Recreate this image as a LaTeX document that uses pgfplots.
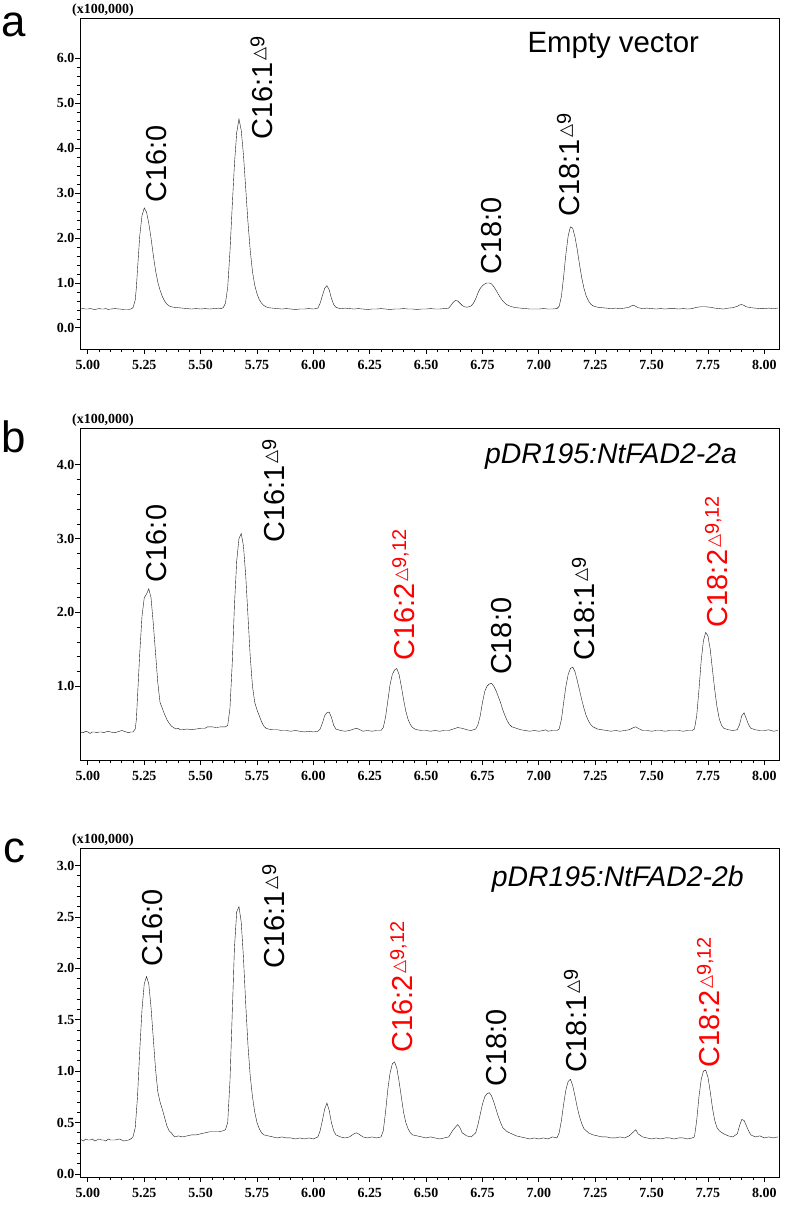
\documentclass[border=0pt]{standalone}
\usepackage{pgfplots}
\pgfplotsset{compat=1.18}
\usepackage{fontspec}
\setmainfont{Liberation Sans}
\newfontfamily\ticksfamily{Liberation Serif}
\newfontfamily\symfont{DejaVu Sans}
\newcommand{\tickfont}{\ticksfamily\bfseries\fontsize{14}{14}\selectfont}
\newcommand{\pk}{\fontsize{29}{29}\selectfont}
\newcommand{\dsup}[1]{\hspace{2bp}\raisebox{8.5bp}{\fontsize{20}{20}\selectfont{\symfont\fontsize{17}{17}\selectfont △}#1}}
\pgfplotsset{chrom/.style={
  scale only axis, width=699bp,
  xmin=4.965, xmax=8.065,
  xtick={5,5.25,5.5,5.75,6,6.25,6.5,6.75,7,7.25,7.5,7.75,8},
  minor x tick num=4,
  minor y tick num=4,
  scaled ticks=false,
  tick align=outside, tick pos=left,
  major tick length=4.5bp, minor tick length=3bp,
  axis line style={line width=0.9bp},
  tick style={line width=0.8bp, black},
  xticklabel style={/pgf/number format/fixed, /pgf/number format/fixed zerofill, /pgf/number format/precision=2, yshift=-3bp},
  yticklabel style={/pgf/number format/fixed, /pgf/number format/fixed zerofill, /pgf/number format/precision=1, inner sep=1bp},
  tick label style={font=\tickfont},
  /pgf/number format/assume math mode=true,
  clip=false,
  cycle list={{black!90, mark=none, line width=0.9bp}},
}}
\begin{document}
\begin{tikzpicture}
\path[use as bounding box] (0,0) rectangle (787bp,-1205bp);
\node[anchor=base, inner sep=0, font=\fontsize{44}{44}\selectfont] at (14bp,-36bp) {a};
\node[anchor=base, inner sep=0, font=\fontsize{44}{44}\selectfont] at (14bp,-452bp) {b};
\node[anchor=base, inner sep=0, font=\fontsize{44}{44}\selectfont] at (14bp,-862bp) {c};
% ---------------- panel a
\begin{axis}[chrom, height=331bp, at={(80bp,-349bp)}, anchor=south west,
  ymin=-0.47, ymax=6.9, ytick={0,1,2,3,4,5,6}]
\addplot coordinates {
(4.965,0.42)(4.98,0.43)(4.99,0.42)(5.00,0.42)(5.01,0.43)(5.02,0.42)(5.03,0.41)(5.04,0.42)(5.05,0.43)(5.06,0.42)(5.07,0.42)(5.08,0.43)(5.09,0.41)(5.10,0.42)(5.12,0.43)(5.14,0.42)(5.16,0.41)(5.18,0.41)(5.19,0.42)(5.20,0.45)(5.21,0.62)(5.215,0.9)(5.22,1.3)(5.23,2.05)(5.24,2.5)(5.25,2.67)(5.26,2.58)(5.27,2.33)(5.28,2.0)(5.29,1.62)(5.30,1.28)(5.31,1.02)(5.32,0.84)(5.33,0.7)(5.34,0.6)(5.35,0.53)(5.36,0.49)(5.37,0.47)(5.38,0.46)(5.40,0.45)(5.42,0.44)(5.44,0.43)(5.46,0.42)(5.48,0.43)(5.50,0.42)(5.52,0.43)(5.54,0.42)(5.56,0.43)(5.58,0.44)(5.59,0.43)(5.60,0.45)(5.61,0.55)(5.62,0.9)(5.63,1.7)(5.64,2.7)(5.65,3.65)(5.66,4.35)(5.67,4.65)(5.68,4.4)(5.69,3.85)(5.70,3.1)(5.71,2.35)(5.72,1.72)(5.73,1.25)(5.74,0.95)(5.75,0.76)(5.76,0.63)(5.77,0.55)(5.78,0.5)(5.79,0.47)(5.80,0.45)(5.82,0.44)(5.84,0.43)(5.86,0.42)(5.88,0.43)(5.90,0.42)(5.92,0.41)(5.94,0.42)(5.96,0.42)(5.98,0.43)(6.00,0.42)(6.02,0.44)(6.03,0.55)(6.04,0.72)(6.05,0.88)(6.06,0.94)(6.07,0.85)(6.08,0.66)(6.09,0.52)(6.10,0.46)(6.11,0.44)(6.12,0.43)(6.14,0.44)(6.16,0.43)(6.18,0.42)(6.20,0.43)(6.22,0.42)(6.24,0.41)(6.26,0.42)(6.28,0.42)(6.30,0.43)(6.32,0.42)(6.34,0.41)(6.36,0.42)(6.38,0.42)(6.40,0.43)(6.42,0.42)(6.44,0.42)(6.46,0.41)(6.48,0.42)(6.50,0.42)(6.52,0.43)(6.54,0.42)(6.56,0.42)(6.58,0.43)(6.60,0.44)(6.61,0.5)(6.62,0.57)(6.63,0.61)(6.64,0.6)(6.65,0.55)(6.66,0.5)(6.67,0.47)(6.68,0.46)(6.69,0.47)(6.70,0.49)(6.71,0.55)(6.72,0.65)(6.73,0.78)(6.74,0.88)(6.75,0.94)(6.76,0.98)(6.77,1.0)(6.78,1.0)(6.79,0.98)(6.80,0.92)(6.81,0.84)(6.82,0.75)(6.83,0.67)(6.84,0.6)(6.85,0.55)(6.86,0.51)(6.88,0.47)(6.90,0.45)(6.92,0.44)(6.94,0.43)(6.96,0.42)(6.98,0.42)(7.00,0.42)(7.02,0.43)(7.04,0.42)(7.06,0.42)(7.08,0.43)(7.09,0.48)(7.10,0.7)(7.11,1.15)(7.12,1.65)(7.13,2.05)(7.14,2.25)(7.15,2.22)(7.16,2.03)(7.17,1.75)(7.18,1.42)(7.19,1.12)(7.20,0.88)(7.21,0.71)(7.22,0.6)(7.23,0.53)(7.24,0.49)(7.26,0.46)(7.28,0.45)(7.30,0.44)(7.32,0.43)(7.34,0.44)(7.36,0.43)(7.38,0.44)(7.40,0.46)(7.41,0.49)(7.42,0.5)(7.43,0.48)(7.44,0.45)(7.46,0.43)(7.48,0.44)(7.50,0.43)(7.52,0.42)(7.54,0.43)(7.56,0.42)(7.58,0.43)(7.60,0.43)(7.62,0.42)(7.64,0.43)(7.66,0.42)(7.68,0.43)(7.70,0.46)(7.72,0.47)(7.74,0.47)(7.76,0.46)(7.78,0.44)(7.80,0.43)(7.82,0.42)(7.84,0.44)(7.86,0.45)(7.88,0.48)(7.89,0.51)(7.90,0.52)(7.91,0.5)(7.92,0.47)(7.94,0.45)(7.96,0.44)(7.98,0.43)(8.00,0.43)(8.02,0.44)(8.04,0.43)(8.06,0.44)
};
\node[anchor=south west, inner sep=0, font=\tickfont] at (rel axis cs:0,1) [xshift=-8bp, yshift=1bp] {(x100,000)};
\node[font=\fontsize{29.5}{29.5}\selectfont] at (axis cs:7.33,6.28) {Empty vector};
\node[rotate=90, anchor=base west, inner sep=0, font=\pk] at (axis cs:5.35,2.78) {C16:0};
\node[rotate=90, anchor=base west, inner sep=0, font=\pk] at (axis cs:5.82,4.19) {C16:1\dsup{9}};
\node[rotate=90, anchor=base west, inner sep=0, font=\pk] at (axis cs:6.834,1.18) {C18:0};
\node[rotate=90, anchor=base west, inner sep=0, font=\pk] at (axis cs:7.18,2.47) {C18:1\dsup{9}};
\end{axis}
% ---------------- panel b
\begin{axis}[chrom, height=332bp, at={(80bp,-760bp)}, anchor=south west,
  ymin=0, ymax=4.5, ytick={1,2,3,4}]
\addplot coordinates {
(4.965,0.38)(4.98,0.37)(4.99,0.39)(5.00,0.38)(5.01,0.36)(5.02,0.38)(5.03,0.38)(5.04,0.37)(5.05,0.38)(5.06,0.38)(5.07,0.37)(5.08,0.38)(5.09,0.39)(5.10,0.38)(5.12,0.37)(5.14,0.39)(5.15,0.40)(5.16,0.39)(5.18,0.37)(5.19,0.38)(5.20,0.38)(5.21,0.42)(5.215,0.55)(5.22,0.85)(5.23,1.45)(5.24,1.95)(5.25,2.2)(5.26,2.25)(5.27,2.32)(5.28,2.2)(5.29,1.85)(5.30,1.45)(5.31,1.05)(5.32,0.78)(5.33,0.7)(5.34,0.62)(5.35,0.55)(5.36,0.5)(5.37,0.46)(5.38,0.44)(5.39,0.42)(5.40,0.43)(5.41,0.41)(5.42,0.41)(5.44,0.42)(5.46,0.41)(5.48,0.42)(5.50,0.43)(5.52,0.43)(5.53,0.45)(5.55,0.45)(5.57,0.44)(5.59,0.45)(5.61,0.45)(5.62,0.47)(5.63,0.7)(5.64,1.3)(5.65,2.1)(5.66,2.7)(5.67,3.0)(5.68,3.07)(5.69,2.9)(5.70,2.5)(5.71,1.95)(5.72,1.4)(5.73,1.0)(5.74,0.78)(5.75,0.68)(5.76,0.6)(5.77,0.52)(5.78,0.46)(5.79,0.43)(5.80,0.42)(5.82,0.41)(5.84,0.41)(5.86,0.40)(5.88,0.40)(5.90,0.39)(5.92,0.40)(5.94,0.39)(5.96,0.38)(5.98,0.39)(6.00,0.38)(6.02,0.39)(6.03,0.42)(6.04,0.5)(6.05,0.6)(6.06,0.64)(6.07,0.65)(6.08,0.58)(6.09,0.47)(6.10,0.42)(6.11,0.41)(6.12,0.40)(6.14,0.39)(6.16,0.40)(6.18,0.42)(6.19,0.43)(6.20,0.42)(6.22,0.39)(6.24,0.40)(6.26,0.39)(6.28,0.40)(6.30,0.40)(6.31,0.44)(6.32,0.58)(6.33,0.8)(6.34,1.02)(6.35,1.16)(6.36,1.22)(6.37,1.24)(6.38,1.16)(6.39,1.0)(6.40,0.82)(6.41,0.66)(6.42,0.55)(6.43,0.48)(6.44,0.44)(6.45,0.42)(6.46,0.41)(6.48,0.40)(6.50,0.40)(6.52,0.39)(6.54,0.40)(6.56,0.39)(6.58,0.40)(6.60,0.40)(6.62,0.42)(6.64,0.44)(6.66,0.43)(6.68,0.41)(6.70,0.40)(6.72,0.42)(6.73,0.48)(6.74,0.6)(6.75,0.78)(6.76,0.93)(6.77,1.0)(6.78,1.03)(6.79,1.04)(6.80,1.0)(6.81,0.94)(6.82,0.86)(6.83,0.78)(6.84,0.68)(6.85,0.6)(6.86,0.53)(6.87,0.48)(6.88,0.45)(6.90,0.43)(6.92,0.41)(6.94,0.40)(6.96,0.39)(6.98,0.40)(7.00,0.39)(7.02,0.40)(7.03,0.41)(7.04,0.39)(7.06,0.40)(7.08,0.40)(7.09,0.42)(7.10,0.55)(7.11,0.78)(7.12,1.0)(7.13,1.16)(7.14,1.24)(7.15,1.26)(7.16,1.2)(7.17,1.08)(7.18,0.95)(7.19,0.82)(7.20,0.7)(7.21,0.6)(7.22,0.53)(7.23,0.48)(7.24,0.45)(7.26,0.42)(7.28,0.41)(7.30,0.40)(7.32,0.39)(7.34,0.40)(7.36,0.39)(7.38,0.40)(7.40,0.41)(7.42,0.44)(7.43,0.45)(7.44,0.43)(7.46,0.40)(7.48,0.40)(7.50,0.39)(7.52,0.40)(7.54,0.40)(7.56,0.39)(7.58,0.40)(7.60,0.40)(7.62,0.40)(7.64,0.39)(7.66,0.40)(7.68,0.40)(7.69,0.42)(7.70,0.6)(7.71,0.95)(7.72,1.35)(7.73,1.62)(7.74,1.73)(7.75,1.68)(7.76,1.5)(7.77,1.22)(7.78,0.95)(7.79,0.72)(7.80,0.56)(7.81,0.47)(7.82,0.43)(7.84,0.41)(7.86,0.40)(7.88,0.41)(7.89,0.48)(7.90,0.6)(7.91,0.64)(7.92,0.56)(7.93,0.48)(7.94,0.43)(7.96,0.41)(7.98,0.40)(8.00,0.40)(8.02,0.41)(8.04,0.39)(8.06,0.40)
};
\node[anchor=south west, inner sep=0, font=\tickfont] at (rel axis cs:0,1) [xshift=-8bp, yshift=1bp] {(x100,000)};
\node[font=\fontsize{28.5}{28.5}\selectfont\itshape] at (axis cs:7.32,4.12) {pDR195:NtFAD2-2a};
\node[rotate=90, anchor=base west, inner sep=0, font=\pk] at (axis cs:5.35,2.41) {C16:0};
\node[rotate=90, anchor=base west, inner sep=0, font=\pk] at (axis cs:5.873,2.95) {C16:1\dsup{9}};
\node[rotate=90, anchor=base west, inner sep=0, font=\pk, text=red] at (axis cs:6.449,1.35) {C16:2\dsup{9,12}};
\node[rotate=90, anchor=base west, inner sep=0, font=\pk] at (axis cs:6.879,1.15) {C18:0};
\node[rotate=90, anchor=base west, inner sep=0, font=\pk] at (axis cs:7.246,1.35) {C18:1\dsup{9}};
\node[rotate=90, anchor=base west, inner sep=0, font=\pk, text=red] at (axis cs:7.836,1.80) {C18:2\dsup{9,12}};
\end{axis}
% ---------------- panel c
\begin{axis}[chrom, height=329bp, at={(80bp,-1177bp)}, anchor=south west,
  ymin=-0.03, ymax=3.17, ytick={0,0.5,1,1.5,2,2.5,3}]
\addplot coordinates {
(4.965,0.34)(4.98,0.32)(4.99,0.34)(5.00,0.33)(5.01,0.33)(5.02,0.34)(5.03,0.32)(5.04,0.33)(5.05,0.34)(5.06,0.33)(5.07,0.33)(5.08,0.32)(5.09,0.34)(5.10,0.33)(5.12,0.33)(5.14,0.34)(5.16,0.32)(5.18,0.33)(5.19,0.34)(5.20,0.36)(5.21,0.45)(5.22,0.75)(5.23,1.2)(5.24,1.6)(5.25,1.85)(5.26,1.92)(5.27,1.85)(5.28,1.62)(5.29,1.32)(5.30,1.02)(5.31,0.8)(5.32,0.7)(5.33,0.63)(5.34,0.55)(5.35,0.47)(5.36,0.42)(5.37,0.4)(5.38,0.37)(5.39,0.36)(5.40,0.37)(5.42,0.36)(5.44,0.37)(5.46,0.38)(5.48,0.38)(5.50,0.39)(5.52,0.40)(5.54,0.41)(5.56,0.41)(5.58,0.41)(5.60,0.42)(5.61,0.43)(5.62,0.5)(5.63,0.9)(5.64,1.55)(5.65,2.2)(5.66,2.55)(5.67,2.6)(5.68,2.45)(5.69,2.1)(5.70,1.65)(5.71,1.25)(5.72,0.95)(5.73,0.75)(5.74,0.6)(5.75,0.5)(5.76,0.44)(5.77,0.4)(5.78,0.38)(5.80,0.37)(5.82,0.36)(5.84,0.35)(5.86,0.36)(5.88,0.35)(5.90,0.35)(5.92,0.34)(5.94,0.35)(5.96,0.34)(5.98,0.35)(6.00,0.34)(6.02,0.36)(6.03,0.42)(6.04,0.52)(6.05,0.63)(6.06,0.69)(6.07,0.62)(6.08,0.5)(6.09,0.42)(6.10,0.38)(6.12,0.36)(6.14,0.35)(6.16,0.36)(6.18,0.39)(6.19,0.40)(6.20,0.39)(6.22,0.36)(6.24,0.35)(6.26,0.36)(6.28,0.35)(6.30,0.36)(6.31,0.42)(6.32,0.6)(6.33,0.82)(6.34,0.98)(6.35,1.07)(6.36,1.09)(6.37,1.03)(6.38,0.9)(6.39,0.75)(6.40,0.6)(6.41,0.5)(6.42,0.44)(6.43,0.4)(6.44,0.38)(6.46,0.37)(6.48,0.36)(6.50,0.35)(6.52,0.36)(6.54,0.35)(6.56,0.34)(6.58,0.35)(6.60,0.36)(6.62,0.43)(6.64,0.48)(6.65,0.45)(6.66,0.4)(6.68,0.37)(6.70,0.36)(6.72,0.4)(6.73,0.48)(6.74,0.58)(6.75,0.68)(6.76,0.75)(6.77,0.78)(6.78,0.79)(6.79,0.76)(6.80,0.7)(6.81,0.63)(6.82,0.56)(6.83,0.5)(6.84,0.45)(6.86,0.41)(6.88,0.39)(6.90,0.37)(6.92,0.36)(6.94,0.35)(6.96,0.34)(6.98,0.35)(7.00,0.34)(7.02,0.35)(7.04,0.34)(7.06,0.36)(7.08,0.35)(7.09,0.4)(7.10,0.52)(7.11,0.68)(7.12,0.82)(7.13,0.9)(7.14,0.92)(7.15,0.86)(7.16,0.76)(7.17,0.65)(7.18,0.56)(7.19,0.49)(7.20,0.44)(7.22,0.4)(7.24,0.38)(7.26,0.37)(7.28,0.36)(7.30,0.36)(7.32,0.35)(7.34,0.35)(7.36,0.36)(7.38,0.35)(7.40,0.37)(7.42,0.41)(7.43,0.43)(7.44,0.39)(7.46,0.36)(7.48,0.35)(7.50,0.34)(7.52,0.35)(7.54,0.34)(7.56,0.35)(7.58,0.35)(7.60,0.34)(7.62,0.35)(7.64,0.35)(7.66,0.34)(7.68,0.35)(7.69,0.36)(7.70,0.52)(7.71,0.75)(7.72,0.92)(7.73,1.0)(7.74,1.01)(7.75,0.94)(7.76,0.8)(7.77,0.64)(7.78,0.52)(7.79,0.45)(7.80,0.42)(7.82,0.39)(7.84,0.37)(7.86,0.36)(7.88,0.39)(7.89,0.47)(7.90,0.53)(7.91,0.52)(7.92,0.47)(7.93,0.42)(7.94,0.38)(7.96,0.36)(7.98,0.37)(8.00,0.35)(8.02,0.36)(8.04,0.35)(8.06,0.36)
};
\node[anchor=south west, inner sep=0, font=\tickfont] at (rel axis cs:0,1) [xshift=-8bp, yshift=1bp] {(x100,000)};
\node[font=\fontsize{28.5}{28.5}\selectfont\itshape] at (axis cs:7.35,2.87) {pDR195:NtFAD2-2b};
\node[rotate=90, anchor=base west, inner sep=0, font=\pk] at (axis cs:5.332,2.02) {C16:0};
\node[rotate=90, anchor=base west, inner sep=0, font=\pk] at (axis cs:5.873,2.0) {C16:1\dsup{9}};
\node[rotate=90, anchor=base west, inner sep=0, font=\pk, text=red] at (axis cs:6.44,1.18) {C16:2\dsup{9,12}};
\node[rotate=90, anchor=base west, inner sep=0, font=\pk] at (axis cs:6.856,0.85) {C18:0};
\node[rotate=90, anchor=base west, inner sep=0, font=\pk] at (axis cs:7.211,0.98) {C18:1\dsup{9}};
\node[rotate=90, anchor=base west, inner sep=0, font=\pk, text=red] at (axis cs:7.80,1.03) {C18:2\dsup{9,12}};
\end{axis}
\end{tikzpicture}
\end{document}
